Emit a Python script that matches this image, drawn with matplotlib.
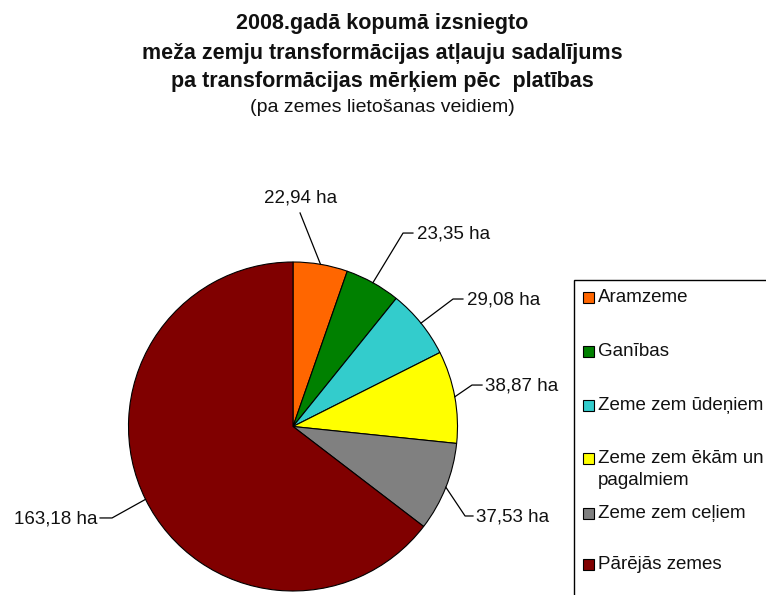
import numpy as np
import matplotlib
matplotlib.use("Agg")
import matplotlib.pyplot as plt
from matplotlib.patches import Rectangle
from matplotlib.transforms import Affine2D

plt.rcParams['font.family'] = ['Liberation Sans', 'DejaVu Sans']

# ---- data -----------------------------------------------------------------
categories = ["Aramzeme", "Ganības", "Zeme zem ūdeņiem",
              "Zeme zem ēkām un\npagalmiem", "Zeme zem ceļiem", "Pārējās zemes"]
# values printed on the labels (ha)
label_values = [22.94, 23.35, 29.08, 38.87, 37.53, 163.18]
# slice sizes as drawn in the reference (the dark-red slice is drawn larger
# than its printed value; estimated from its angle in the picture)
slice_sizes = [22.94, 23.35, 29.08, 38.87, 37.53, 277.0]
colors = ["#FF6600", "#008000", "#33CCCC", "#FFFF00", "#808080", "#800000"]

title_lines = ["2008.gadā kopumā izsniegto",
               "meža zemju transformācijas atļauju sadalījums",
               "pa transformācijas mērķiem pēc  platības"]
subtitle = "(pa zemes lietošanas veidiem)"

W, H = 766, 595
fig = plt.figure(figsize=(W / 100, H / 100), dpi=100)
fig.patch.set_facecolor("white")

# pixel transform (origin top-left)
px = Affine2D().scale(1 / W, -1 / H).translate(0, 1) + fig.transFigure

# ---- pie ------------------------------------------------------------------
cx, cy, r = 293, 426.5, 164.5
ax = fig.add_axes([(cx - r) / W, (H - cy - r) / H, 2 * r / W, 2 * r / H])
wedges, _ = ax.pie(slice_sizes, colors=colors, startangle=90, counterclock=False,
                   wedgeprops=dict(edgecolor="black", linewidth=0.8))
ax.set_aspect("auto")
ax.set_xlim(-1, 1)
ax.set_ylim(-1, 1)
ax.axis("off")

# label layout (data units, radius = 1): elbow, tick end, text anchor, ha
layout = [
    ((0.043, 1.298), None, (0.043, 1.392), "center"),
    ((0.669, 1.176), (0.729, 1.176), (0.752, 1.170), "left"),
    ((0.973, 0.775), (1.033, 0.775), (1.055, 0.768), "left"),
    ((1.088, 0.252), (1.149, 0.252), (1.165, 0.245), "left"),
    ((1.046, -0.544), (1.094, -0.544), (1.112, -0.548), "left"),
    ((-1.100, -0.556), (-1.173, -0.556), (-1.190, -0.560), "right"),
]

for w, v, (elbow, tick, tpos, ha) in zip(wedges, label_values, layout):
    mid = np.deg2rad((w.theta1 + w.theta2) / 2)
    p = (np.cos(mid), np.sin(mid))
    xs = [p[0], elbow[0]]
    ys = [p[1], elbow[1]]
    if tick is not None:
        xs.append(tick[0])
        ys.append(tick[1])
    ax.plot(xs, ys, color="black", lw=0.9, clip_on=False)
    txt = f"{v:.2f}".replace(".", ",") + " ha"
    ax.text(tpos[0], tpos[1], txt, ha=ha, va="center", fontsize=13.5,
            color="#111111", clip_on=False)

# ---- title ----------------------------------------------------------------
title_y = [24, 53, 81]
for t, y in zip(title_lines, title_y):
    fig.text(382, y, t, transform=px, ha="center", va="center",
             fontsize=15.5, fontweight="bold", color="#111111")
fig.text(382, 108, subtitle, transform=px, ha="center", va="center",
         fontsize=14, color="#111111")

# ---- legend (drawn as in the reference, running off the right edge) -------
frame = Rectangle((574, 280), 260, 360, transform=px, facecolor="white",
                  edgecolor="black", lw=1.0, clip_on=True)
fig.add_artist(frame)
row_y = [297, 351, 405, 458, 513, 564]
for name, col, y in zip(categories, colors, row_y):
    sq = Rectangle((583, y - 5.5), 11, 11, transform=px, facecolor=col,
                   edgecolor="black", lw=0.8)
    fig.add_artist(sq)
    fig.text(598, y - 8, name, transform=px, ha="left", va="top",
             fontsize=13.5, linespacing=1.4, color="#111111")

fig.savefig("out.png", dpi=100, facecolor="white")
